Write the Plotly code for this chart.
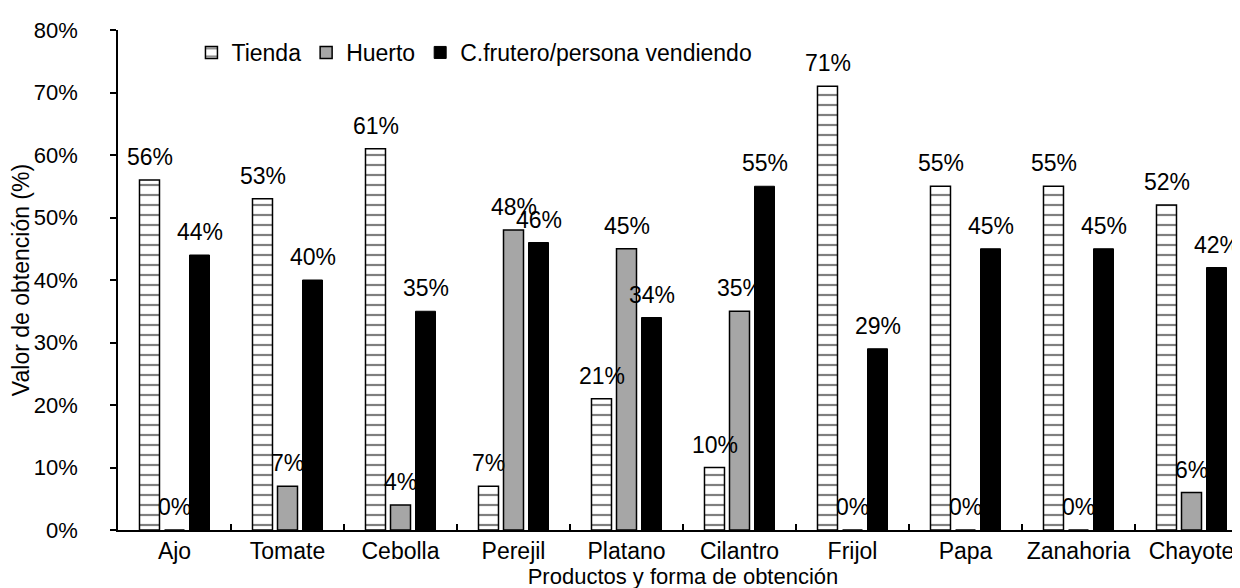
import plotly.graph_objects as go

categories = ["Ajo", "Tomate", "Cebolla", "Perejil", "Platano", "Cilantro",
              "Frijol", "Papa", "Zanahoria", "Chayote"]
tienda = [56, 53, 61, 7, 21, 10, 71, 55, 55, 52]
huerto = [0, 7, 4, 48, 45, 35, 0, 0, 0, 6]
frutero = [44, 40, 35, 46, 34, 55, 29, 45, 45, 42]
series_names = ["Tienda", "Huerto", "C.frutero/persona vendiendo"]
y_ticks = [0, 10, 20, 30, 40, 50, 60, 70, 80]

FONT = "Liberation Sans, Arial, sans-serif"
FS = 23

fig = go.Figure()
fig.add_trace(go.Bar(
    x=categories, y=tienda, name=series_names[0],
    marker=dict(color="white", line=dict(color="black", width=1.5),
                pattern=dict(shape="-", fgcolor="black", bgcolor="white",
                             size=10, solidity=0.22)),
))
fig.add_trace(go.Bar(
    x=categories, y=huerto, name=series_names[1],
    marker=dict(color="#A6A6A6", line=dict(color="black", width=1.5)),
))
fig.add_trace(go.Bar(
    x=categories, y=frutero, name=series_names[2],
    marker=dict(color="black", line=dict(color="black", width=1)),
))

# data labels
offsets = [-25, 0, 25]
for series, dx in zip([tienda, huerto, frutero], offsets):
    for c, v in zip(categories, series):
        fig.add_annotation(x=c, y=v, text=f"{v}%", showarrow=False,
                           xshift=dx, yshift=23, yanchor="middle",
                           font=dict(family=FONT, size=FS, color="black"))

fig.update_layout(
    width=1240, height=588,
    margin=dict(l=110, r=0, t=22, b=66),
    paper_bgcolor="white", plot_bgcolor="white",
    barmode="group", bargap=0.336, bargroupgap=0.2,
    font=dict(family=FONT, size=FS, color="black"),
    legend=dict(orientation="h", x=0.065, y=0.955, xanchor="left", yanchor="middle",
                bgcolor="rgba(0,0,0,0)", font=dict(family=FONT, size=FS),
                itemwidth=30, traceorder="normal"),
    xaxis=dict(showline=True, linecolor="black", linewidth=1.5,
               ticks="inside", tickson="boundaries", ticklen=6, tickwidth=1.5,
               tickcolor="black", showgrid=False, tickangle=0,
               automargin=False, ticklabelstandoff=0,
               title=dict(text="Productos y forma de obtención", standoff=0,
                          font=dict(size=22)),
               tickfont=dict(size=FS)),
    yaxis=dict(range=[0, 80], tickvals=y_ticks,
               ticktext=[f"{t}%" for t in y_ticks],
               showline=True, linecolor="black", linewidth=1.5,
               ticks="outside", ticklen=6, tickwidth=1.5, tickcolor="black",
               showgrid=False, zeroline=False, ticklabelstandoff=28,
               automargin=False,
               title=dict(text="Valor de obtención (%)", standoff=4,
                          font=dict(size=FS)),
               tickfont=dict(size=22)),
)

fig.write_html("out.html")
